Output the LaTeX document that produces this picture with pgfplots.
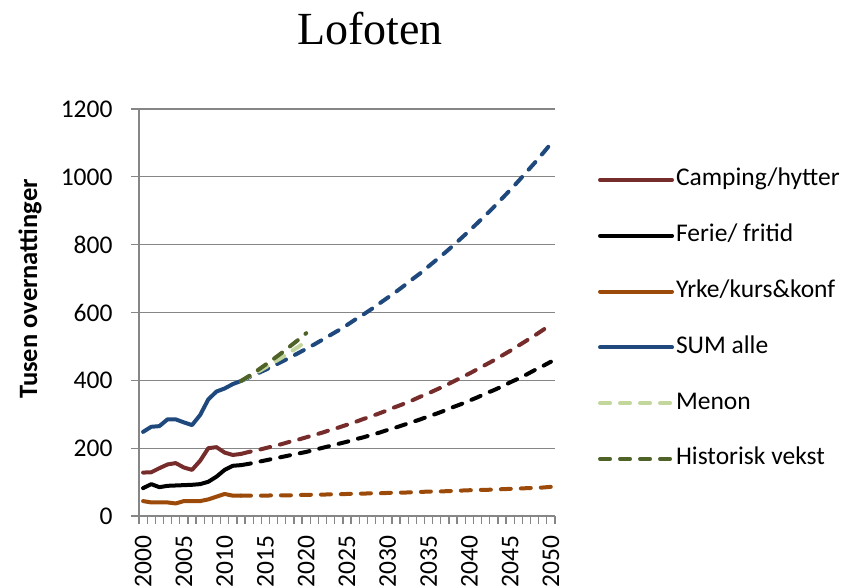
\documentclass[border=0pt]{standalone}
\usepackage{fontspec}
\setmainfont{Carlito}
\newfontfamily\titlefont{Liberation Serif}
\usepackage{pgfplots}
\pgfplotsset{compat=1.18}
\definecolor{campc}{HTML}{772C2C}
\definecolor{yrkec}{HTML}{9C4A0A}
\definecolor{sumc}{HTML}{1F497D}
\definecolor{menonc}{HTML}{C3D69B}
\definecolor{histc}{HTML}{4F6228}
\definecolor{gridc}{HTML}{868686}
\begin{document}
\begin{tikzpicture}
\useasboundingbox (-139pt,-71pt) rectangle (711pt,516pt);
\begin{axis}[
  at={(0pt,0pt)}, anchor=south west,
  scale only axis, width=416pt, height=407pt,
  xmin=1999.5, xmax=2050.5, ymin=0, ymax=1200,
  separate axis lines,
  axis x line=bottom, axis y line=left,
  axis line style={draw=gridc, line width=1.3pt, -},
  ytick={0,200,...,1200},
  xtick={2000,2005,...,2050},
  minor xtick={1999.5,2000.5,...,2050.5},
  major tick length=8pt, minor tick length=8pt,
  tick align=outside,
  tick style={draw=gridc, line width=1.3pt},
  major x tick style={draw=none},
  ymajorgrids, grid style={draw=gridc, line width=1.3pt},
  /pgf/number format/assume math mode=true,
  /pgf/number format/1000 sep={},
  ticklabel style={font=\fontsize{25.5}{30}\selectfont},
  x tick label style={rotate=90, anchor=east, yshift=0pt, xshift=-8pt},
  y tick label style={xshift=-15pt},
  ylabel={Tusen overnattinger},
  ylabel style={at={(axis description cs:-0.262,0.558)}, anchor=center, font=\bfseries\fontsize{26.5}{30}\selectfont},
  title={Lofoten},
  title style={at={(axis description cs:0.555,1.182)}, anchor=center, font=\titlefont\fontsize{46}{50}\selectfont},
  legend style={draw=none, fill=none, at={(axis description cs:1.103,0.483)}, anchor=west, inner sep=0pt, row sep=27.8pt,
    font=\fontsize{25.5}{30}\selectfont, nodes={inner sep=2pt, text height=18pt, text depth=6pt}},
  legend cell align=left,
  every axis plot/.append style={line width=4pt, line cap=round, line join=round},
  legend image code/.code={\draw[#1, line cap=round] (0pt,0pt) -- (72pt,0pt);},
  clip=false,
]
% projections (dashed)
\addplot[sumc, dash pattern=on 10pt off 10pt, forget plot] coordinates {
(2012,398)(2013,409)(2014,420)(2015,431)(2016,443)(2017,455)(2018,467)(2019,480)(2020,493)
(2021,506)(2022,520)(2023,534)(2024,548)(2025,563)(2026,579)(2027,594)(2028,610)(2029,627)(2030,644)
(2031,661)(2032,679)(2033,698)(2034,716)(2035,736)(2036,756)(2037,776)(2038,797)(2039,819)(2040,841)
(2041,864)(2042,887)(2043,911)(2044,936)(2045,961)(2046,987)(2047,1014)(2048,1041)(2049,1069)(2050,1098)};
\addplot[campc, dash pattern=on 10pt off 10pt, forget plot] coordinates {
(2012,183)(2013,189)(2014,194)(2015,200)(2016,206)(2017,212)(2018,219)(2019,225)(2020,232)
(2021,239)(2022,246)(2023,254)(2024,261)(2025,269)(2026,277)(2027,286)(2028,294)(2029,303)(2030,312)
(2031,322)(2032,331)(2033,341)(2034,352)(2035,362)(2036,373)(2037,384)(2038,396)(2039,408)(2040,420)
(2041,433)(2042,446)(2043,459)(2044,473)(2045,487)(2046,502)(2047,517)(2048,532)(2049,548)(2050,565)};
\addplot[black, dash pattern=on 10pt off 10pt, forget plot] coordinates {
(2012,150)(2013,154)(2014,159)(2015,164)(2016,169)(2017,174)(2018,179)(2019,184)(2020,189)
(2021,195)(2022,201)(2023,207)(2024,213)(2025,219)(2026,226)(2027,232)(2028,239)(2029,246)(2030,254)
(2031,261)(2032,269)(2033,277)(2034,285)(2035,294)(2036,302)(2037,311)(2038,321)(2039,330)(2040,340)
(2041,350)(2042,361)(2043,371)(2044,382)(2045,394)(2046,405)(2047,417)(2048,430)(2049,442)(2050,455)};
\addplot[yrkec, dash pattern=on 10pt off 10pt, forget plot] coordinates {
(2012,60)(2013,60)(2014,60)(2015,60)(2016,61)(2017,61)(2018,61)(2019,62)(2020,62)
(2021,63)(2022,63)(2023,64)(2024,64)(2025,65)(2026,66)(2027,66)(2028,67)(2029,67)(2030,68)
(2031,69)(2032,69)(2033,70)(2034,71)(2035,72)(2036,72)(2037,73)(2038,74)(2039,75)(2040,76)
(2041,77)(2042,77)(2043,78)(2044,79)(2045,80)(2046,81)(2047,82)(2048,83)(2049,84)(2050,86)};
% historical (solid)
\addplot[campc] coordinates {
(2000,128)(2001,129)(2002,141)(2003,152)(2004,156)(2005,143)(2006,136)(2007,163)(2008,200)(2009,203)(2010,187)(2011,180)(2012,183)};
\addlegendentry{Camping/hytter}
\addplot[black] coordinates {
(2000,82)(2001,94)(2002,85)(2003,89)(2004,90)(2005,91)(2006,92)(2007,94)(2008,101)(2009,116)(2010,136)(2011,148)(2012,150)};
\addlegendentry{Ferie/ fritid}
\addplot[yrkec] coordinates {
(2000,44)(2001,40)(2002,40)(2003,40)(2004,37)(2005,44)(2006,44)(2007,44)(2008,49)(2009,57)(2010,65)(2011,60)(2012,60)};
\addlegendentry{Yrke/kurs\&konf}
\addplot[sumc] coordinates {
(2000,248)(2001,263)(2002,265)(2003,285)(2004,285)(2005,276)(2006,268)(2007,298)(2008,344)(2009,367)(2010,376)(2011,389)(2012,398)};
\addlegendentry{SUM alle}
\addplot[menonc, dash pattern=on 10pt off 10pt] coordinates {
(2012,398)(2013,411)(2014,424)(2015,438)(2016,453)(2017,467)(2018,483)(2019,498)(2020,515)};
\addlegendentry{Menon}
\addplot[histc, dash pattern=on 10pt off 10pt] coordinates {
(2012,398)(2013,413)(2014,429)(2015,446)(2016,463)(2017,481)(2018,500)(2019,519)(2020,539)};
\addlegendentry{Historisk vekst}
\end{axis}
\end{tikzpicture}
\end{document}
